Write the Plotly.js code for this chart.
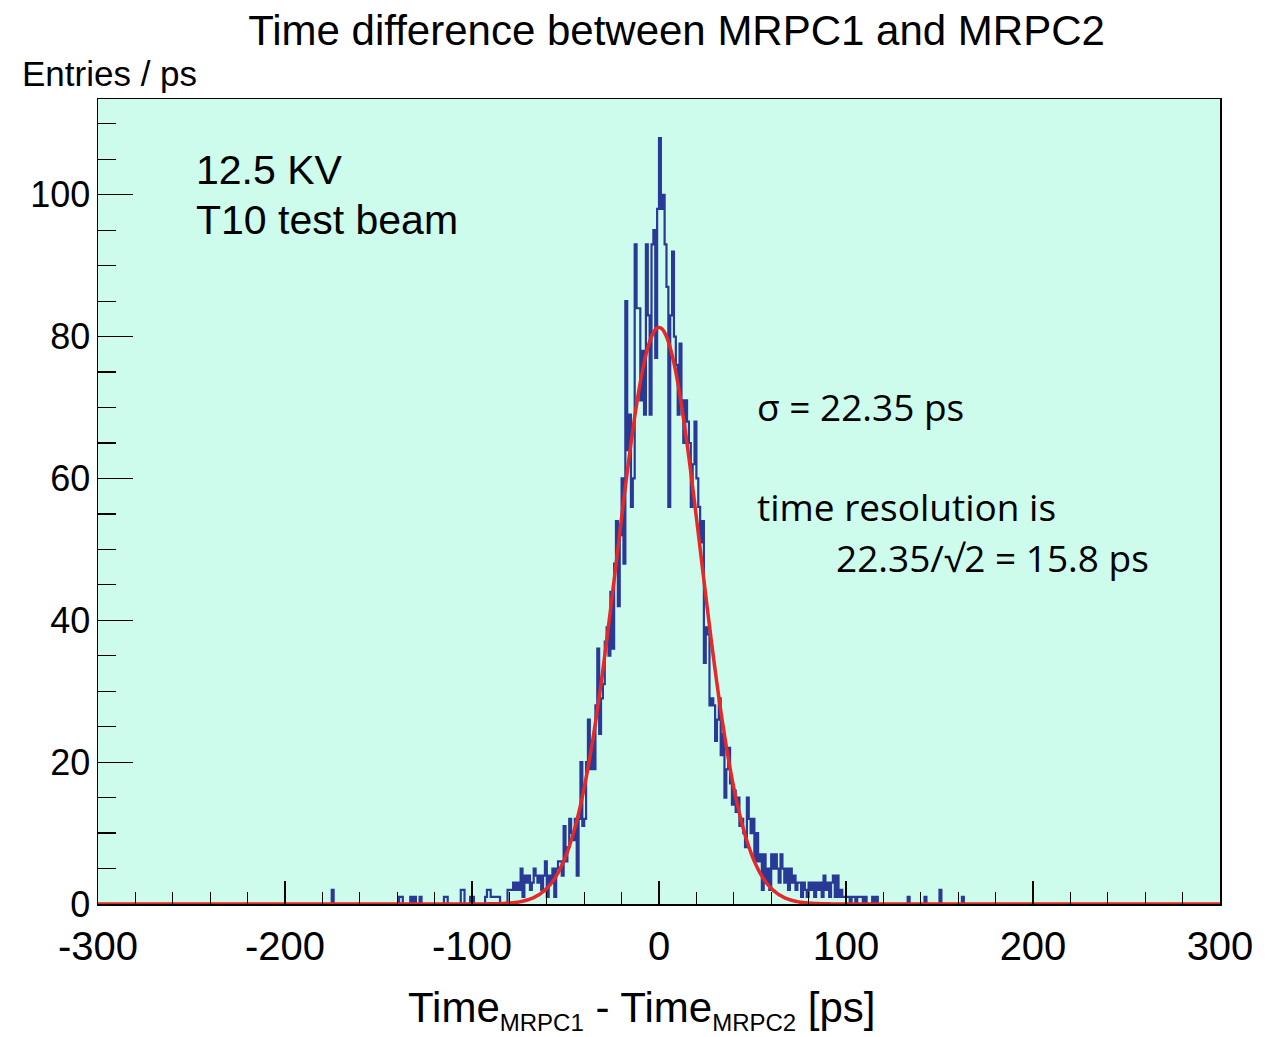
<!DOCTYPE html>
<html>
<head>
<meta charset="utf-8">
<script src="https://cdn.plot.ly/plotly-3.0.1.min.js"></script>
<style>
  html, body { margin: 0; padding: 0; background: #ffffff; }
  #chart { width: 1274px; height: 1037px; }
</style>
</head>
<body>
<div id="chart"></div>
<script>
// Histogram of MRPC1 - MRPC2 time difference, 1 ps bins over [-300, 300)
const histMin = -300;
const histMax = 300;
const binWidth = 1;

// Axis tick labels
const xTickVals = [-300, -200, -100, 0, 100, 200, 300];
const xTickText = ['-300', '-200', '-100', '0', '100', '200', '300'];

// Core region: counts for bins starting at coreStart, one per ps
const coreStart = -95;
const coreCounts = [
  0, 0, 1, 2, 2, 1, 1, 1, 1, 1, 0, 0, 0, 0, 2,          // -95 .. -81
  2, 2, 3, 2, 3, 2, 5, 1, 4, 3,                         // -80 .. -71
  4, 2, 3, 5, 4, 3, 4, 2, 4, 6,                         // -70 .. -61
  1, 4, 3, 5, 1, 5, 6, 6, 4, 11,                        // -60 .. -51
  6, 8, 12, 10, 9, 12, 4, 12, 20, 11,                   // -50 .. -41
  12, 20, 26, 19, 23, 19, 28, 36, 24, 29,               // -40 .. -31
  31, 37, 39, 35, 44, 36, 48, 54, 42, 52,               // -30 .. -21
  60, 48, 85, 64, 69, 56, 60, 93, 84, 84,               // -20 .. -11
  71, 78, 69, 93, 83, 69, 93, 95, 77, 98,               // -10 .. -1
  108, 98, 100, 93, 87, 56, 83, 92, 80, 76,             //   0 .. 9
  69, 79, 71, 65, 71, 68, 65, 56, 62, 68,               //  10 .. 19
  60, 56, 51, 54, 34, 39, 38, 28, 29, 28,               //  20 .. 29
  23, 26, 29, 21, 24, 15, 19, 22, 17, 14,               //  30 .. 39
  16, 13, 15, 11, 12, 10, 8, 15, 12, 10,                //  40 .. 49
  12, 6, 10, 6, 7, 2, 7, 3, 5, 2,                       //  50 .. 59
  7, 5, 7, 5, 3, 7, 5, 3, 5, 2,                         //  60 .. 69
  5, 3, 4, 2, 3, 3, 1, 3, 2, 1,                         //  70 .. 79
  3, 2, 3, 1, 3, 2, 3, 1, 4, 2,                         //  80 .. 89
  3, 1, 3, 4, 1, 4, 1, 2, 1, 1,                         //  90 .. 99
  1, 1, 0, 1, 1, 0, 1, 1, 1, 0, 1                       // 100 .. 110
];

// Isolated entries in the far tails
const tailBins   = [-175, -139, -138, -133, -131, -128, -115, -114, -106, -105, -101, -100, 114, 116, 133, 142, 150, 162];
const tailCounts = [   2,    1,    1,    1,    1,    1,    1,    1,    2,    2,    1,    1,   1,   1,   1,   1,   2,   1];

// Gaussian fit parameters
const fitConstant = 81.3;
const fitMean = 0.0;
const fitSigma = 22.35;

// Build full bin table
const nBins = Math.round((histMax - histMin) / binWidth);
const counts = new Array(nBins).fill(0);
coreCounts.forEach((c, i) => { counts[coreStart - histMin + i] = c; });
tailBins.forEach((b, i) => { counts[b - histMin] = tailCounts[i]; });

// Step outline: each bin drawn flat across its width
const stepX = [], stepY = [];
for (let i = 0; i < nBins; i++) {
  stepX.push(histMin + i * binWidth);
  stepY.push(counts[i]);
}
stepX.push(histMax);
stepY.push(counts[nBins - 1]);

// Fit curve evaluated across the axis range
const fitX = [], fitY = [];
for (let x = histMin; x <= histMax; x += 1) {
  fitX.push(x);
  fitY.push(fitConstant * Math.exp(-0.5 * Math.pow((x - fitMean) / fitSigma, 2)));
}

const helv = "Liberation Sans, Arial, Helvetica, sans-serif";
const noteFont = "Open Sans, Noto Sans, sans-serif";
const sub = s => '<sub><span style="font-size:24px">' + s + '</span></sub>';

const traces = [
  {
    type: 'scatter', mode: 'lines',
    x: stepX, y: stepY,
    line: { shape: 'hv', color: '#283a96', width: 2.2 },
    hoverinfo: 'skip', showlegend: false
  },
  {
    type: 'scatter', mode: 'lines',
    x: fitX, y: fitY,
    line: { color: '#e62828', width: 3.5, shape: 'spline' },
    hoverinfo: 'skip', showlegend: false
  }
];

const layout = {
  width: 1274, height: 1037,
  paper_bgcolor: '#ffffff',
  plot_bgcolor: '#cdfbec',
  margin: { l: 98, r: 54, t: 99, b: 133 },
  showlegend: false,
  title: {
    text: 'Time difference between MRPC1 and MRPC2',
    font: { family: helv, size: 42, color: '#000000' },
    x: 0.531, xanchor: 'center', xref: 'container',
    y: 0.971, yanchor: 'middle', yref: 'container'
  },
  xaxis: {
    range: [histMin, histMax],
    showgrid: false, zeroline: false,
    showline: true, mirror: true, linecolor: '#000000', linewidth: 1.5,
    ticks: 'inside', ticklen: 23, tickwidth: 1.2, tickcolor: '#000000',
    tickmode: 'array', tickvals: xTickVals, ticktext: xTickText,
    minor: { ticks: 'inside', ticklen: 12, tickwidth: 1.2, tickcolor: '#000000', tickmode: 'linear', tick0: -300, dtick: 20, showgrid: false },
    tickfont: { family: helv, size: 40, color: '#000000' },
    ticklabelstandoff: 6
  },
  yaxis: {
    range: [0, 113.5],
    showgrid: false, zeroline: false,
    showline: true, mirror: true, linecolor: '#000000', linewidth: 1.5,
    ticks: 'inside', ticklen: 35, tickwidth: 1.2, tickcolor: '#000000',
    tick0: 0, dtick: 20,
    minor: { ticks: 'inside', ticklen: 18, tickwidth: 1.2, tickcolor: '#000000', dtick: 5, showgrid: false },
    tickfont: { family: helv, size: 36, color: '#000000' },
    ticklabelstandoff: -1
  },
  annotations: [
    {
      text: 'Entries / ps', xref: 'paper', yref: 'paper',
      x: -0.0695, y: 1.032, xanchor: 'left', yanchor: 'middle',
      showarrow: false, font: { family: helv, size: 35, color: '#000000' }
    },
    {
      text: 'Time' + sub('MRPC1') + ' - Time' + sub('MRPC2') + ' [ps]',
      xref: 'paper', yref: 'paper',
      x: 0.485, y: -0.1317, xanchor: 'center', yanchor: 'middle',
      showarrow: false, font: { family: helv, size: 42, color: '#000000' }
    },
    {
      text: '12.5 KV', xref: 'x', yref: 'y', x: -248.5, y: 103.5,
      xanchor: 'left', yanchor: 'middle', showarrow: false,
      font: { family: helv, size: 41, color: '#000000' }
    },
    {
      text: 'T10 test beam', xref: 'x', yref: 'y', x: -248.5, y: 96.4,
      xanchor: 'left', yanchor: 'middle', showarrow: false,
      font: { family: helv, size: 41, color: '#000000' }
    },
    {
      text: 'σ = ' + fitSigma.toFixed(2) + ' ps', xref: 'x', yref: 'y', x: 51.2, y: 70.1,
      xanchor: 'left', yanchor: 'middle', showarrow: false,
      font: { family: noteFont, size: 37, color: '#000000' }
    },
    {
      text: 'time resolution is', xref: 'x', yref: 'y', x: 51.2, y: 56.0,
      xanchor: 'left', yanchor: 'middle', showarrow: false,
      font: { family: noteFont, size: 37, color: '#000000' }
    },
    {
      text: fitSigma.toFixed(2) + '/√2 = ' + (fitSigma / Math.SQRT2).toFixed(1) + ' ps',
      xref: 'x', yref: 'y', x: 93.5, y: 48.9,
      xanchor: 'left', yanchor: 'middle', showarrow: false,
      font: { family: noteFont, size: 37, color: '#000000' }
    }
  ]
};

Plotly.newPlot('chart', traces, layout, { staticPlot: true, displayModeBar: false });
</script>
</body>
</html>
